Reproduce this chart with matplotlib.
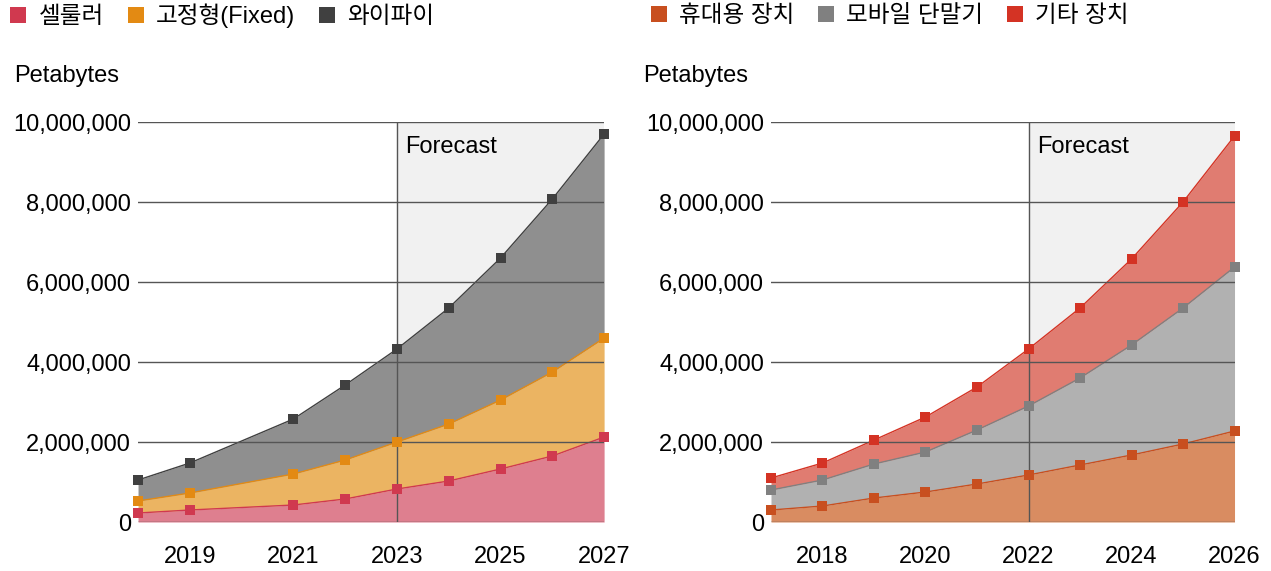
import matplotlib.pyplot as plt
from matplotlib.ticker import FuncFormatter
from matplotlib.lines import Line2D

plt.rcParams['font.family'] = ['Liberation Sans', 'Noto Sans CJK KR', 'DejaVu Sans']

# traffic by access type (cumulative stack tops, petabytes)
years_a = [2018, 2019, 2021, 2022, 2023, 2024, 2025, 2026, 2027]
cellular = [225000, 300000, 425000, 575000, 825000, 1025000, 1325000, 1650000, 2125000]
fixed_top = [525000, 725000, 1200000, 1550000, 2000000, 2450000, 3050000, 3750000, 4600000]
wifi_top = [1050000, 1475000, 2575000, 3425000, 4325000, 5350000, 6600000, 8075000, 9700000]
labels_a = ['셀룰러', '고정형(Fixed)', '와이파이']
ticks_a = [2019, 2021, 2023, 2025, 2027]

# traffic by device type (cumulative stack tops, petabytes)
years_b = list(range(2017, 2027))
portable = [300000, 400000, 600000, 750000, 950000, 1175000, 1425000, 1675000, 1950000, 2275000]
mobile_top = [800000, 1050000, 1450000, 1750000, 2300000, 2900000, 3600000, 4425000, 5350000, 6375000]
other_top = [1100000, 1475000, 2050000, 2625000, 3375000, 4325000, 5350000, 6575000, 8000000, 9650000]
labels_b = ['휴대용 장치', '모바일 단말기', '기타 장치']
ticks_b = [2018, 2020, 2022, 2024, 2026]

marker_a = ['#d0394f', '#e38a13', '#404040']
fill_a = ['#de7f8f', '#ebb462', '#8f8f8f']
marker_b = ['#c84f1f', '#808080', '#d43324']
fill_b = ['#d98c61', '#b1b1b1', '#e07c71']

FS = 17

fig = plt.figure(figsize=(12.71, 5.71), dpi=100)


def draw_panel(rect, years, tops, labels, ticks, forecast, mcolors, fcolors, legend_x):
    ax = fig.add_axes(rect)
    x0, x1 = years[0], years[-1]
    ax.set_xlim(x0, x1)
    ax.set_ylim(0, 10000000)

    # forecast region
    ax.axvspan(forecast, x1, color='#f1f1f1', zorder=0)
    ax.axvline(forecast, color='#555555', lw=1, zorder=4)

    for v in range(0, 10000001, 2000000):
        ax.axhline(v, color='#555555', lw=1, zorder=4)

    lower = [0] * len(years)
    for top, mc, fc in zip(tops, mcolors, fcolors):
        ax.fill_between(years, lower, top, color=fc, lw=0, zorder=2)
        ax.plot(years, top, color=mc, lw=1, zorder=3)
        ax.plot(years, top, 's', color=mc, ms=7, mew=0, zorder=5, clip_on=False)
        lower = top

    ax.set_xticks(ticks)
    ax.set_yticks(range(0, 10000001, 2000000))
    ax.yaxis.set_major_formatter(FuncFormatter(lambda v, p: f'{int(v):,}'))
    ax.tick_params(axis='both', length=0, labelsize=FS, colors='black')
    ax.tick_params(axis='x', pad=17)
    ax.tick_params(axis='y', pad=5)
    for s in ax.spines.values():
        s.set_visible(False)

    ax.text(forecast + 0.16, 9370000, 'Forecast', fontsize=FS, va='center', zorder=6)

    handles = [Line2D([], [], marker='s', ls='none', color=c, ms=12, mew=0) for c in mcolors]
    fig.legend(handles, labels, loc='center left', bbox_to_anchor=(legend_x, 0.972),
               ncol=3, frameon=False, fontsize=FS, handlelength=0.7, handletextpad=0.5,
               columnspacing=1.0, borderaxespad=0, borderpad=0)
    return ax


draw_panel([0.1086, 0.0858, 0.3667, 0.7005], years_a, [cellular, fixed_top, wifi_top],
           labels_a, ticks_a, 2023, marker_a, fill_a, 0.008)
draw_panel([0.6066, 0.0858, 0.3647, 0.7005], years_b, [portable, mobile_top, other_top],
           labels_b, ticks_b, 2022, marker_b, fill_b, 0.512)

fig.text(0.011, 0.867, 'Petabytes', fontsize=FS, va='center')
fig.text(0.506, 0.867, 'Petabytes', fontsize=FS, va='center')

fig.savefig('out.png', dpi=100)
